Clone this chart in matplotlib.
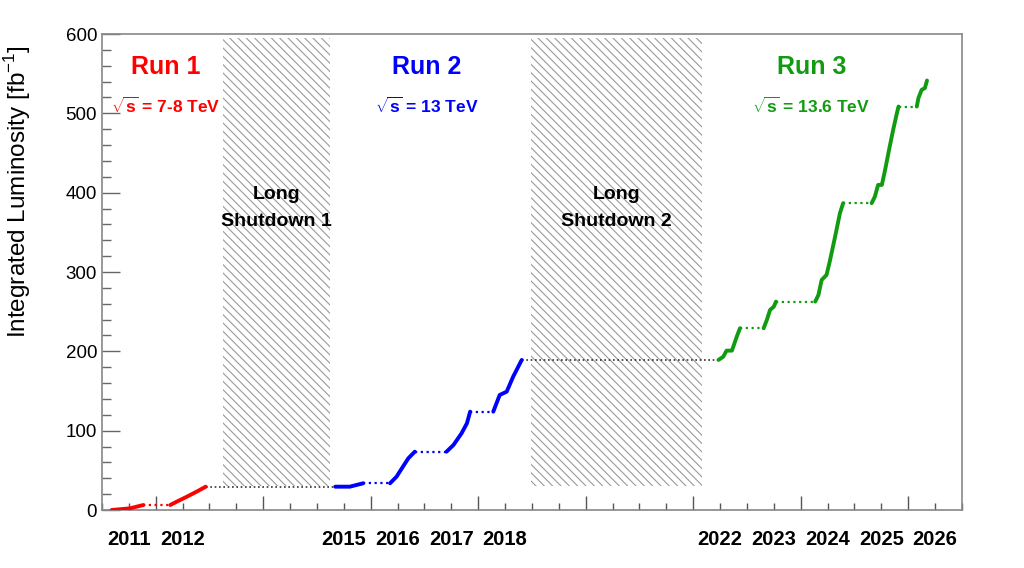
import numpy as np
import matplotlib
matplotlib.use("Agg")
import matplotlib.pyplot as plt
from matplotlib.patches import Rectangle
from matplotlib.ticker import MultipleLocator, NullFormatter

plt.rcParams['font.family'] = ['Liberation Sans', 'DejaVu Sans']
plt.rcParams['mathtext.fontset'] = 'custom'
plt.rcParams['mathtext.rm'] = 'Liberation Sans'
plt.rcParams['mathtext.bf'] = 'Liberation Sans:bold'
plt.rcParams['hatch.linewidth'] = 0.8
plt.rcParams['hatch.color'] = '#9a9a9a'

# cumulative luminosity per year of data taking (time in years, lumi in fb^-1)
run1_t = [[2011.18, 2011.52, 2011.77],
          [2012.27, 2012.39, 2012.58, 2012.76, 2012.93]]
run1_lumi = [[0.0, 2.1, 6.3],
             [6.3, 10.5, 16.8, 23.1, 29.4]]

run2_t = [[2015.34, 2015.61, 2015.86],
          [2016.36, 2016.48, 2016.58, 2016.70, 2016.82],
          [2017.41, 2017.54, 2017.69, 2017.79, 2017.85],
          [2018.28, 2018.40, 2018.53, 2018.65, 2018.81]]
run2_lumi = [[29.4, 29.4, 33.7],
             [33.7, 42.0, 52.6, 65.2, 73.5],
             [73.5, 82.0, 96.7, 109.3, 124.0],
             [124.0, 145.0, 149.2, 168.1, 189.2]]

run3_t = [[2022.47, 2022.56, 2022.62, 2022.72, 2022.81, 2022.87],
          [2023.31, 2023.37, 2023.43, 2023.50, 2023.54],
          [2024.27, 2024.33, 2024.39, 2024.48, 2024.54, 2024.64, 2024.73, 2024.79],
          [2025.32, 2025.38, 2025.44, 2025.51, 2025.57, 2025.65, 2025.72, 2025.79, 2025.82],
          [2026.16, 2026.19, 2026.25, 2026.31, 2026.35]]
run3_lumi = [[189.2, 193.3, 200.9, 200.9, 218.5, 229.1],
             [229.1, 239.6, 252.2, 256.4, 262.7],
             [262.7, 271.1, 290.0, 296.3, 313.1, 344.6, 374.2, 386.8],
             [386.8, 395.1, 409.8, 409.8, 428.7, 456.1, 479.2, 500.3, 508.6],
             [508.6, 519.2, 529.6, 531.8, 541.4]]

# long shutdowns (start, end) and hatched lumi range
shutdown_names = ["Long\nShutdown 1", "Long\nShutdown 2"]
shutdown_start = [2013.25, 2018.98]
shutdown_end = [2015.24, 2022.17]
shutdown_lumi = [30, 595]

run_names = ["Run 1", "Run 2", "Run 3"]
run_energy = ["7-8", "13", "13.6"]
run_label_x = [2012.19, 2017.05, 2024.2]
run_colors = ["#ff0000", "#0000ff", "#119b11"]

year_labels = [2011, 2012, 2015, 2016, 2017, 2018, 2022, 2023, 2024, 2025, 2026]

fig = plt.figure(figsize=(10.24, 5.68), dpi=100)
ax = fig.add_axes([0.0996, 0.1021, 0.8398, 0.838])

# hatched shutdown boxes
for name, t0, t1 in zip(shutdown_names, shutdown_start, shutdown_end):
    ax.add_patch(Rectangle((t0, shutdown_lumi[0]), t1 - t0, shutdown_lumi[1] - shutdown_lumi[0],
                           facecolor='none', edgecolor='#9a9a9a', linewidth=0, hatch='\\\\\\\\', zorder=1))
    line1, line2 = name.split("\n")
    ax.text((t0 + t1) / 2, 392, line1, ha='center', va='baseline', fontsize=14, fontweight='bold', zorder=3)
    ax.text((t0 + t1) / 2, 358.5, line2, ha='center', va='baseline', fontsize=14, fontweight='bold', zorder=3)

# luminosity curves: solid during data taking, dotted over the winter breaks
runs_t = [run1_t, run2_t, run3_t]
runs_l = [run1_lumi, run2_lumi, run3_lumi]
for t_list, l_list, col in zip(runs_t, runs_l, run_colors):
    for i, (t, l) in enumerate(zip(t_list, l_list)):
        ax.plot(t, l, color=col, lw=2.8, solid_capstyle='round', solid_joinstyle='round', zorder=4)
        if i > 0:
            ax.plot([t_list[i - 1][-1], t[0]], [l_list[i - 1][-1], l[0]], color=col,
                    lw=1.6, ls=(0, (1, 1.6)), zorder=4)

# black dotted links between runs
for a in range(2):
    ax.plot([runs_t[a][-1][-1], runs_t[a + 1][0][0]], [runs_l[a][-1][-1], runs_l[a + 1][0][0]],
            color='#333333', lw=1.2, ls=(0, (1, 1.6)), zorder=3)

# run labels
for name, en, x, col in zip(run_names, run_energy, run_label_x, run_colors):
    ax.text(x, 550, name, ha='center', va='baseline', fontsize=18, fontweight='bold', color=col)
    ax.text(x, 500.6, r'$\sqrt{\mathbf{s}}$ = ' + en + ' TeV', ha='center', va='baseline',
            fontsize=12.5, fontweight='bold', color=col)

ax.set_xlim(2011, 2027)
ax.set_ylim(0, 600)

ax.xaxis.set_major_locator(MultipleLocator(2))
ax.xaxis.set_minor_locator(MultipleLocator(0.5))
ax.xaxis.set_major_formatter(NullFormatter())
ax.yaxis.set_major_locator(MultipleLocator(100))
ax.yaxis.set_minor_locator(MultipleLocator(20))

ax.tick_params(axis='x', which='major', direction='in', length=10, width=1, color='#555555', top=False)
ax.tick_params(axis='x', which='minor', direction='in', length=5, width=1, color='#555555', top=False)
ax.tick_params(axis='y', which='major', direction='in', length=13, width=1, color='#666666',
               right=False, labelsize=13.5, pad=3.5)
ax.tick_params(axis='y', which='minor', direction='in', length=6.5, width=1, color='#666666', right=False)

for s in ax.spines.values():
    s.set_color('#888888')
    s.set_linewidth(1.2)

for yr in year_labels:
    ax.text(yr + 0.5, -37, str(yr), ha='center', va='center', fontsize=14.5, fontweight='bold')

ax.set_ylabel(r'Integrated Luminosity [fb$^{\mathregular{-1}}$]', fontsize=17.5)
ax.yaxis.set_label_coords(-0.08, 0.67)

fig.savefig("out.png", dpi=100)
